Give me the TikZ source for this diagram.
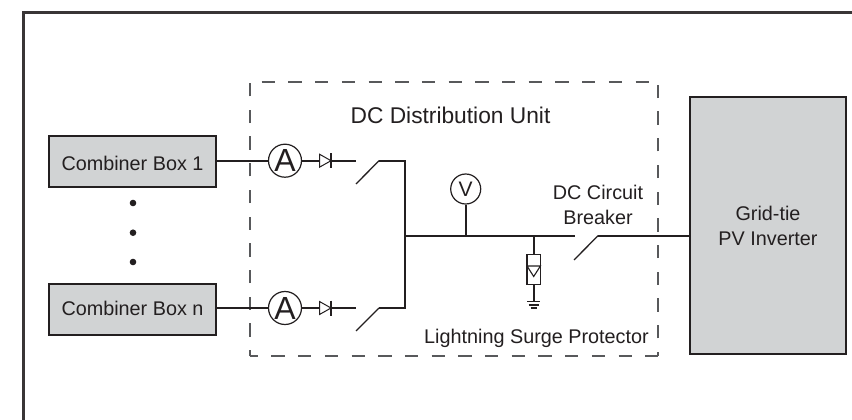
\documentclass[tikz,border=0pt]{standalone}
\usepackage{fontspec}
\setmainfont{Liberation Sans}
\definecolor{ink}{HTML}{231F20}
\definecolor{boxgray}{HTML}{D1D3D4}
\definecolor{dashgray}{HTML}{58595B}
\tikzset{
  unit/.style={draw=ink,line width=2.6pt,fill=boxgray,inner sep=0pt,text=ink,font=\fontsize{19.8}{25}\selectfont,align=center},
  lbl/.style={inner sep=0pt,text=ink,font=\fontsize{19.8}{25}\selectfont,align=center,anchor=base},
  wire/.style={draw=ink,line width=2pt},
  thin wire/.style={draw=ink,line width=1.3pt},
  meter/.style={circle,draw=ink,line width=1.2pt,fill=white,inner sep=0pt,text=ink},
  dot/.style={circle,fill=ink,inner sep=0pt,minimum size=6.6pt},
  dashside/.style={draw=dashgray,line width=1.3pt,dash pattern=on 13.3pt off 13.4pt},
}
\begin{document}
\begin{tikzpicture}[x=1pt,y=-1pt]
\useasboundingbox (0,0) rectangle (852,420);
\fill[white] (0,0) rectangle (852,420);
% outer frame (open at right and bottom)
\draw[draw=ink!90,line width=3pt] (23,420) -- (23,13) -- (852,13);
% DC distribution unit
\coordinate (ul) at (250,82); \coordinate (ur) at (658,82);
\coordinate (ll) at (250,356); \coordinate (lr) at (658,356);
\draw[dashside,dash phase=15pt] (ul) -- (ur);
\draw[dashside,dash phase=7.3pt] (ll) -- (ul);
\draw[dashside,dash phase=5.3pt] (ll) -- (lr);
\draw[dashside,dash phase=9pt] (lr) -- (ur);
% boxes
\node[unit,minimum width=167pt,minimum height=51pt,text height=17pt,text depth=0pt] (cb1) at (132.5,161.5) {Combiner Box 1};
\node[unit,minimum width=167pt,minimum height=51pt,text height=14.2pt,text depth=1.8pt] (cbn) at (132.5,309.5) {Combiner Box n};
\node[unit,minimum width=156pt,minimum height=257pt] (inv) at (768,225.5) {Grid-tie\\PV Inverter};
\node[dot] (d1) at (133,203) {};
\node[dot] (d2) at (133,232.7) {};
\node[dot] (d3) at (133,262) {};
% meters
\node[meter,minimum size=33pt,font=\fontsize{32}{32}\selectfont] (am1) at (285,160.7) {A};
\node[meter,minimum size=33pt,font=\fontsize{32}{32}\selectfont] (amn) at (285,308) {A};
\node[meter,minimum size=30pt,font=\fontsize{21}{21}\selectfont] (vm) at (465.7,189) {V};
% junction coordinates
\coordinate (s1a) at (356,160.7); \coordinate (s1b) at (379,160.7); \coordinate (s1c) at (356,184);
\coordinate (bus1) at (405,160.7);
\coordinate (sna) at (356,308); \coordinate (snb) at (379,308); \coordinate (snc) at (356,331);
\coordinate (busn) at (405,308);
\coordinate (busm) at (405,235.7);
\coordinate (vj) at (465.7,235.7);
\coordinate (pj) at (533.7,235.7);
\coordinate (bk1) at (575,235.7);
\coordinate (bk2) at (598,235.7);
\coordinate (bk3) at (574,260);
\coordinate (invin) at (inv.west |- bk2);
% wires
\draw[wire] (cb1.east |- am1) -- (am1);
\draw[wire] (cbn.east |- amn) -- (amn);
\draw[wire] (am1) -- (s1a);
\draw[wire] (amn) -- (sna);
\draw[wire,line join=miter] (s1b) -- (bus1) -- (busn) -- (snb);
\draw[thin wire] (s1b) -- (s1c);
\draw[thin wire] (snb) -- (snc);
\draw[wire] (busm) -- (bk1);
\draw[wire] (bk2) -- (invin);
\draw[thin wire] (bk2) -- (bk3);
\draw[wire] (vm) -- (vj);
% diodes
\foreach \yy in {160.7,308}{
  \filldraw[draw=ink,fill=white,line width=1pt] (319.5,\yy-6.5) -- (331,\yy) -- (319.5,\yy+6.5) -- cycle;
  \draw[draw=ink,line width=1.6pt] (331,\yy-7.5) -- (331,\yy+7.5);
}
% surge protector
\coordinate (pt) at (533.7,254.3);
\coordinate (pb) at (533.7,284.7);
\coordinate (gnd) at (533.7,301.7);
\draw[wire] (pj) -- (pt);
\draw[wire] (pb) -- (gnd);
\draw[draw=ink,fill=white,line width=1.1pt] (527,254.3) rectangle (540.4,284.7);
\draw[draw=ink,line width=1.1pt] (527,266) -- (540.4,266) -- (533.7,276.5) -- cycle;
\draw[draw=ink,line width=1.4pt] (527.2,301.7) -- (540.2,301.7);
\draw[draw=ink,line width=1.4pt] (528.7,304.9) -- (538.7,304.9);
\draw[draw=ink,line width=1.4pt] (530.7,308) -- (536.7,308);
% labels
\node[lbl,font=\fontsize{22.75}{25}\selectfont] (tdc) at (450.5,124) {DC Distribution Unit};
\node[lbl] (tbk1) at (598,199) {DC Circuit};
\node[lbl] (tbk2) at (598,224) {Breaker};
\node[lbl] (tsp) at (536.5,343) {Lightning Surge Protector};
\end{tikzpicture}
\end{document}
